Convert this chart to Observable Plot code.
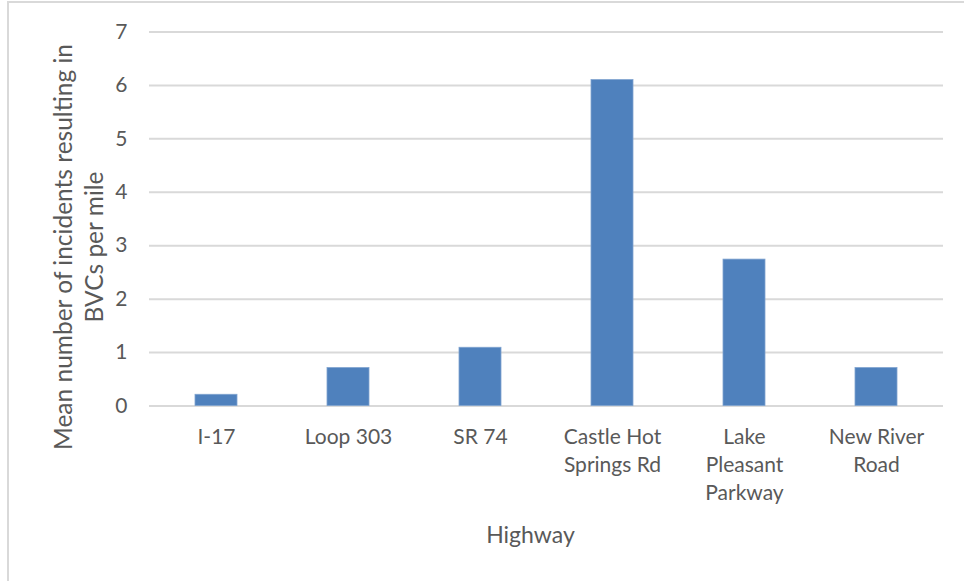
<!DOCTYPE html>
<html>
<head>
<meta charset="utf-8">
<script src="https://cdn.jsdelivr.net/npm/d3@7"></script>
<script src="https://cdn.jsdelivr.net/npm/@observablehq/plot@0.6"></script>
<style>
  html, body { margin: 0; padding: 0; background: #fff; }
  #wrap { position: relative; width: 964px; height: 581px; overflow: hidden; }
  #border { position: absolute; left: 7px; top: 1px; width: 1000px; height: 700px;
            border-top: 2px solid #d9d9d9; border-left: 2px solid #d9d9d9; box-sizing: border-box; }
  #chart { position: absolute; left: 0; top: 0; }
</style>
</head>
<body>
<div id="wrap"><div id="border"></div><div id="chart"></div></div>
<script>
const highways = ["I-17", "Loop 303", "SR 74", "Castle Hot Springs Rd", "Lake Pleasant Parkway", "New River Road"];
const tickLabels = ["I-17", "Loop 303", "SR 74", "Castle Hot\nSprings Rd", "Lake\nPleasant\nParkway", "New River\nRoad"];
const values = [0.21, 0.71, 1.09, 6.10, 2.74, 0.71];
const yTicks = [0, 1, 2, 3, 4, 5, 6, 7];
const yTitle = "Mean number of incidents resulting in\nBVCs per mile";
const xTitle = "Highway";

const data = highways.map((h, i) => ({highway: h, value: values[i]}));
const labelOf = new Map(highways.map((h, i) => [h, tickLabels[i]]));

const font = "Lato, 'Open Sans', sans-serif";
const textColor = "#595959";

const chart = Plot.plot({
  width: 964,
  height: 581,
  marginLeft: 149,
  marginRight: 21,
  marginTop: 31.5,
  marginBottom: 175.5,
  style: {fontFamily: font, fontSize: "21px", color: textColor, background: "transparent", overflow: "visible"},
  x: {domain: highways, paddingInner: 0.683, paddingOuter: 0.3415},
  y: {domain: [0, 7]},
  marks: [
    Plot.ruleY(yTicks, {stroke: "#d9d9d9", strokeWidth: 2}),
    Plot.barY(data, {x: "highway", y: "value", fill: "#4f81bd", stroke: "#7fa3cf", strokeWidth: 0.8}),
    Plot.axisY({ticks: yTicks, tickFormat: d3.format("d"), tickSize: 0, tickPadding: 22, label: null, fill: textColor, fontSize: 21}),
    Plot.axisX({tickSize: 0, tickPadding: 18, label: null, tickFormat: d => labelOf.get(d), lineHeight: 1.33, fill: textColor, fontSize: 21}),
    Plot.text([yTitle], {frameAnchor: "left", textAnchor: "middle", lineAnchor: "middle", dx: -72, dy: 28, rotate: -90, lineHeight: 1.25, fontSize: 24.5, fill: textColor}),
    Plot.text([xTitle], {frameAnchor: "bottom", dx: -16, dy: 137, fontSize: 23, fill: textColor})
  ]
});
document.getElementById("chart").appendChild(chart);
</script>
</body>
</html>
